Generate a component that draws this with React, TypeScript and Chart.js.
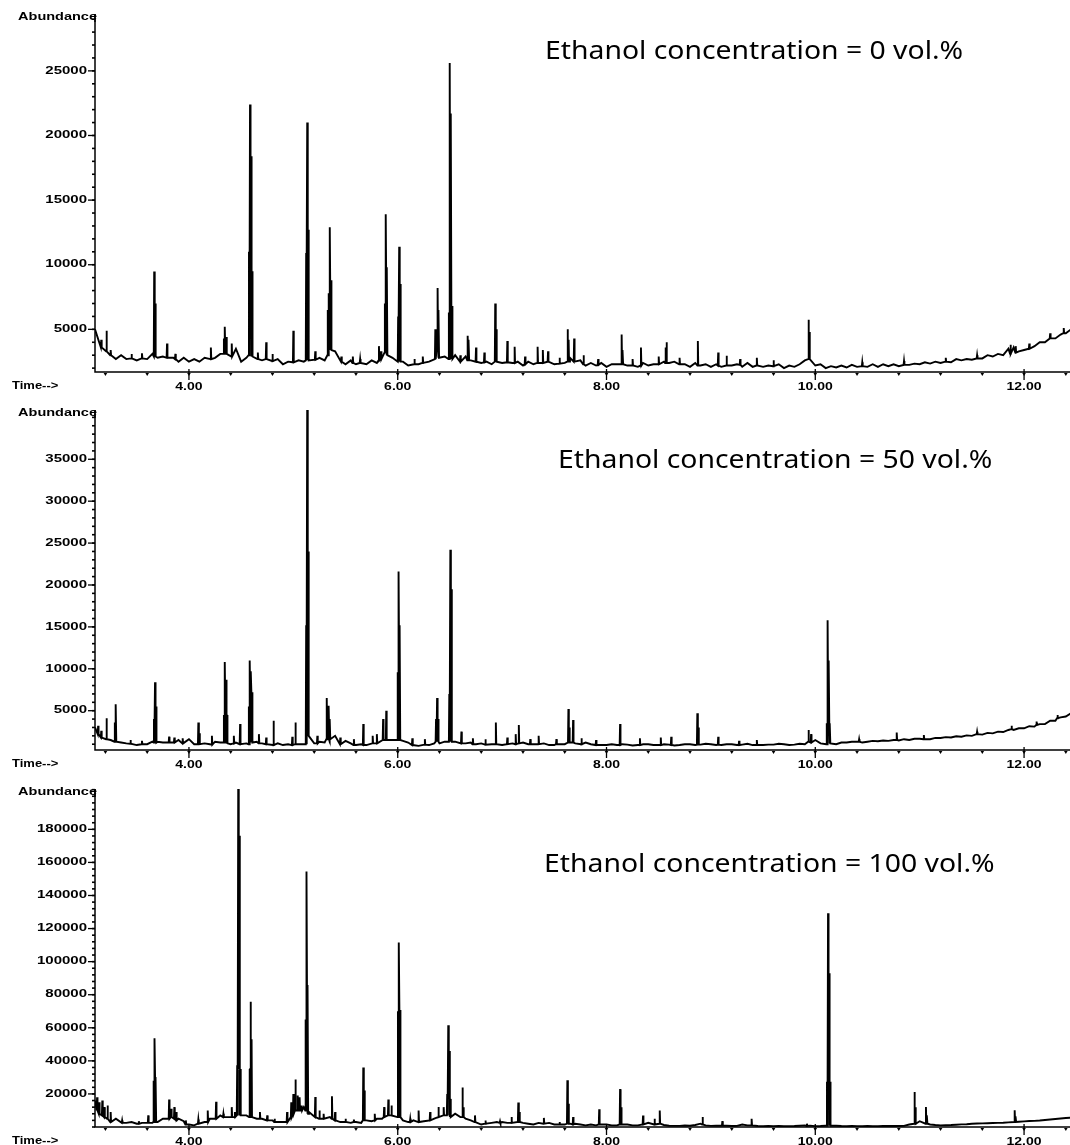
import { useEffect, useRef } from "react";
import { Chart, registerables } from "chart.js";

Chart.register(...registerables);

// Baseline samples (abundance) every 0.05 min, from 3.10 min to 12.45 min.
const BASE_START = 3.1;
const BASE_STEP = 0.05;

const BASELINE_0 = [
  5000, 3900, 3300, 3000, 2700, 3000, 2700, 2900, 2600, 2900,
  2700, 3100, 2800, 2900, 2600, 2800, 2500, 2800, 2500, 2700,
  2500, 2800, 2600, 2800, 3100, 2800, 3400, 3500, 2500, 2800,
  2900, 3200, 2600, 2900, 2400, 2700, 2300, 2500, 2300, 2600,
  2500, 2900, 2600, 2800, 2600, 3100, 3300, 2500, 2300, 2600,
  2300, 2500, 2300, 2600, 2400, 2900, 3300, 2800, 2300, 2500,
  2200, 2500, 2300, 2600, 2500, 2800, 2600, 2900, 2600, 3000,
  2500, 2900, 2600, 2800, 2400, 2500, 2300, 2700, 2400, 2600,
  2400, 2500, 2200, 2500, 2300, 2700, 2600, 2700, 2300, 2400,
  2400, 2800, 2500, 2600, 2200, 2400, 2200, 2400, 2100, 2300,
  2300, 2600, 2200, 2300, 2100, 2400, 2200, 2300, 2200, 2500,
  2400, 2500, 2200, 2300, 2100, 2400, 2200, 2300, 2100, 2300,
  2100, 2400, 2200, 2300, 2100, 2400, 2100, 2300, 2100, 2200,
  2100, 2300, 2000, 2200, 2100, 2300, 2600, 2700, 2200, 2300,
  2000, 2150, 2050, 2200, 2050, 2250, 2100, 2200, 2100, 2300,
  2100, 2300, 2150, 2300, 2150, 2400, 2250, 2350, 2300, 2450,
  2350, 2500, 2400, 2600, 2450, 2700, 2600, 2700, 2650, 2900,
  2750, 3000, 2900, 3100, 3000, 3500, 3600, 3300, 3400, 3700,
  3700, 4000, 4000, 4300, 4300, 4600, 4700, 5000,
];

const BASELINE_50 = [
  3000, 2400, 1800, 1500, 1400, 1200, 1100, 1000, 900, 1100,
  1000, 1300, 1300, 1200, 1200, 1000, 1500, 1200, 1600, 1000,
  900, 1100, 1000, 1300, 1200, 900, 1000, 1200, 1000, 1100,
  1500, 1300, 1100, 1300, 900, 1100, 900, 1000, 800, 1000,
  1000, 1200, 1100, 1300, 1200, 1500, 2000, 1800, 1400, 1100,
  900, 1000, 900, 1100, 1000, 1200, 1300, 1500, 1800, 1400,
  1200, 900, 800, 1000, 900, 1100, 1100, 1300, 1400, 1300,
  1300, 1100, 1200, 1000, 1100, 900, 1000, 1100, 900, 1000,
  1100, 1300, 1200, 1000, 1000, 1100, 1100, 900, 900, 1000,
  1000, 1100, 1100, 1300, 1200, 1000, 1000, 900, 900, 1000,
  900, 1000, 950, 850, 900, 1000, 1000, 900, 900, 1000,
  950, 850, 900, 1000, 1000, 900, 950, 1050, 1000, 900,
  900, 1000, 1000, 900, 950, 1050, 900, 1000, 900, 950,
  950, 1050, 1000, 900, 950, 1050, 1000, 1500, 1500, 1100,
  1100, 1200, 1000, 1200, 1200, 1300, 1300, 1200, 1300, 1400,
  1350, 1450, 1400, 1500, 1450, 1600, 1500, 1650, 1650, 1600,
  1600, 1750, 1750, 1850, 1800, 1950, 1900, 2050, 2000, 2200,
  2150, 2350, 2300, 2500, 2450, 2700, 2700, 2900, 2900, 3150,
  3100, 3400, 3400, 3800, 3800, 4200, 4300, 4700,
];

const BASELINE_100 = [
  16000, 12000, 9000, 7000, 5000, 4000, 2500, 3000, 2000, 2500,
  3000, 2500, 3000, 5000, 7000, 9000, 5000, 3500, 1500, 1000,
  2500, 3000, 5000, 4000, 7000, 6000, 6000, 8000, 9000, 7000,
  6000, 5000, 5000, 4000, 4000, 3000, 3000, 2000, 10000, 12000,
  12000, 9000, 8000, 6000, 5000, 6000, 4000, 3000, 3500, 2500,
  3000, 2500, 4000, 3500, 5000, 5000, 7000, 8000, 6000, 4000,
  3000, 4000, 5000, 3500, 4000, 5000, 6000, 8000, 12000, 8000,
  6000, 5000, 4000, 3000, 1500, 2000, 2500, 3000, 3000, 2500,
  3500, 3000, 2500, 2000, 1500, 2500, 3500, 2500, 1500, 2000,
  1500, 2000, 2000, 1500, 1000, 1500, 1000, 1500, 1500, 1000,
  1000, 1500, 1500, 1000, 1000, 1500, 2500, 2000, 2000, 1200,
  800, 700, 700, 900, 800, 1200, 2000, 1000, 700, 800,
  900, 800, 600, 700, 1500, 1000, 800, 600, 500, 600,
  500, 600, 500, 500, 600, 800, 1000, 800, 500, 600,
  800, 700, 800, 600, 500, 600, 500, 500, 600, 500,
  500, 600, 600, 700, 600, 700, 1500, 2500, 3500, 2000,
  1500, 1200, 1000, 1100, 1200, 1400, 1600, 1700, 2000, 2100,
  2200, 2300, 2400, 2500, 2600, 2800, 3000, 3200, 3400, 3600,
  3700, 3900, 4200, 4500, 4800, 5100, 5400, 5700,
];

// Peaks: [retention time (min), apex abundance, abundance at the foot]
type Peak = [number, number, number];

const PEAKS_0: Peak[] = [
  [3.16, 4200, 3600], [3.21, 4900, 3300], [3.25, 3400, 3000], [3.45, 3100, 2750],
  [3.55, 3150, 2750], [3.667, 9480, 2900], [3.677, 7000, 2900], [3.79, 3900, 2800],
  [3.87, 3100, 2700], [4.21, 3600, 2700], [4.335, 4300, 3100], [4.345, 5200, 3100],
  [4.36, 4400, 3100], [4.41, 3900, 2900], [4.575, 11000, 3000], [4.585, 22400, 9500],
  [4.595, 18400, 9500], [4.605, 9500, 2900], [4.66, 3200, 2700], [4.74, 4000, 2700],
  [4.8, 3100, 2550], [5.0, 4900, 2450], [5.123, 10900, 2600], [5.133, 21000, 10900],
  [5.143, 12700, 2600], [5.21, 3300, 2650], [5.33, 6500, 3000], [5.341, 7800, 4000],
  [5.351, 12900, 6500], [5.361, 8800, 3400], [5.46, 2900, 2500], [5.57, 2900, 2400],
  [5.64, 2700, 2400], [5.82, 3700, 2600], [5.84, 3300, 2700], [5.877, 7000, 3200],
  [5.887, 13900, 7000], [5.897, 9800, 3000], [6.004, 6000, 2500], [6.014, 11400, 6000],
  [6.024, 8500, 2500], [6.16, 2700, 2300], [6.24, 2900, 2400], [6.36, 5000, 2700],
  [6.382, 8200, 4000], [6.392, 6500, 2800], [6.49, 6300, 2700], [6.5, 25600, 6300],
  [6.51, 21700, 6000], [6.52, 6800, 2700], [6.6, 3000, 2500], [6.67, 4500, 2600],
  [6.68, 4200, 2600], [6.75, 3600, 2500], [6.83, 3200, 2450], [6.934, 7000, 2500],
  [6.944, 5000, 2500], [7.05, 4100, 2450], [7.12, 3650, 2400], [7.22, 2900, 2300],
  [7.34, 3650, 2400], [7.39, 3400, 2400], [7.44, 3300, 2500], [7.55, 2800, 2350],
  [7.627, 5000, 2500], [7.637, 4200, 2500], [7.69, 4300, 2500], [7.78, 3000, 2300],
  [7.92, 2700, 2250], [8.145, 4600, 2300], [8.155, 3400, 2300], [8.25, 2700, 2200],
  [8.33, 3600, 2200], [8.5, 2900, 2300], [8.565, 3600, 2400], [8.575, 4000, 2400],
  [8.7, 2800, 2300], [8.875, 4100, 2200], [9.07, 3200, 2200], [9.15, 2950, 2200],
  [9.28, 2700, 2250], [9.44, 2800, 2200], [9.6, 2600, 2150], [9.935, 5750, 2700],
  [9.945, 4800, 2700], [10.45, 2450, 2150], [10.85, 2550, 2250], [11.25, 2800, 2500],
  [11.55, 3000, 2750], [11.87, 3800, 3100], [11.92, 3700, 3200], [12.05, 3900, 3500],
  [12.25, 4700, 4300], [12.38, 5100, 4700],
];

const PEAKS_50: Peak[] = [
  [3.13, 3200, 2200], [3.16, 2600, 1800], [3.21, 4100, 1600], [3.29, 3600, 1300],
  [3.3, 5760, 1300], [3.44, 1500, 1050], [3.55, 1400, 1000], [3.665, 4000, 1200],
  [3.675, 8400, 4000], [3.685, 5500, 1200], [3.81, 1900, 1200], [3.86, 1800, 1200],
  [3.94, 1700, 1100], [4.09, 3600, 1000], [4.1, 2300, 1000], [4.22, 2000, 950],
  [4.335, 4500, 1200], [4.345, 10800, 4500], [4.355, 8700, 4400], [4.365, 4500, 1100],
  [4.43, 2000, 1100], [4.49, 3400, 1000], [4.574, 5500, 1000], [4.584, 11000, 5500],
  [4.594, 9700, 7200], [4.604, 7200, 1200], [4.67, 2200, 1100], [4.74, 1800, 1000],
  [4.81, 3800, 900], [4.99, 1900, 900], [5.02, 3600, 1000], [5.123, 15200, 1000],
  [5.133, 42000, 15200], [5.143, 24000, 2000], [5.23, 2000, 1100], [5.32, 6500, 1600],
  [5.33, 5500, 2000], [5.34, 5600, 1800], [5.35, 4000, 1600], [5.45, 1800, 1000],
  [5.58, 1600, 900], [5.67, 3400, 900], [5.76, 2000, 1100], [5.8, 2200, 1100],
  [5.86, 4000, 1500], [5.89, 5000, 1500], [6.0, 9600, 1500], [6.01, 21600, 9600],
  [6.02, 15200, 1500], [6.14, 1700, 900], [6.26, 1600, 950], [6.367, 4000, 1300],
  [6.377, 6500, 1300], [6.387, 4000, 1300], [6.494, 7000, 1300], [6.504, 24200, 7000],
  [6.514, 19500, 1300], [6.61, 2500, 1100], [6.72, 1700, 1000], [6.84, 1600, 950],
  [6.94, 3600, 1000], [7.05, 1800, 1000], [7.13, 2200, 1000], [7.16, 3300, 1100],
  [7.27, 1600, 1000], [7.35, 2000, 1000], [7.52, 1600, 1000], [7.635, 5200, 1200],
  [7.645, 3000, 1200], [7.68, 3900, 1200], [7.76, 1700, 1000], [7.9, 1500, 900],
  [8.13, 3400, 900], [8.32, 1700, 900], [8.52, 1800, 900], [8.62, 1900, 900],
  [8.87, 4700, 950], [8.88, 3000, 950], [9.07, 1900, 950], [9.27, 1400, 900],
  [9.44, 1500, 900], [9.935, 2700, 1300], [9.96, 2200, 1200], [10.11, 3500, 1000],
  [10.12, 15800, 3500], [10.13, 11000, 3500], [10.14, 3500, 1100], [10.42, 1600, 1300],
  [10.78, 2400, 1500], [11.04, 2100, 1600], [11.55, 2500, 2200], [11.88, 3200, 2800],
  [12.12, 3700, 3300], [12.32, 4500, 4100],
];

const PEAKS_100: Peak[] = [
  [3.12, 18000, 10000], [3.14, 15000, 8000], [3.17, 16000, 7000], [3.19, 12000, 6000],
  [3.22, 13000, 5000], [3.25, 9000, 3000], [3.36, 4000, 2500], [3.52, 3500, 2000],
  [3.61, 7000, 2500], [3.662, 28000, 3000], [3.672, 53600, 28000], [3.682, 30300, 3000],
  [3.81, 16600, 5000], [3.83, 11000, 6000], [3.86, 12000, 5000], [3.88, 9000, 4000],
  [3.97, 4000, 1500], [4.09, 4500, 2000], [4.18, 10000, 3000], [4.26, 15200, 5000],
  [4.33, 8000, 6000], [4.41, 12000, 6000], [4.44, 9000, 6000], [4.462, 37400, 7000],
  [4.472, 205000, 37400], [4.482, 176200, 35000], [4.492, 35000, 7000], [4.58, 35000, 6000],
  [4.59, 75700, 35000], [4.6, 53000, 6000], [4.68, 9000, 5000], [4.75, 7000, 4000],
  [4.82, 5000, 3000], [4.94, 9000, 3000], [4.98, 15000, 6000], [5.0, 20000, 8000],
  [5.02, 28700, 10000], [5.04, 19000, 10000], [5.06, 18000, 10000], [5.08, 13000, 10000],
  [5.118, 65000, 10000], [5.128, 154500, 65000], [5.138, 85900, 8000], [5.21, 18200, 6000],
  [5.25, 10000, 5000], [5.29, 8000, 5000], [5.37, 18600, 5000], [5.4, 9000, 4000],
  [5.5, 5000, 3000], [5.58, 4500, 3000], [5.67, 36000, 4000], [5.68, 22000, 4000],
  [5.78, 8000, 4000], [5.87, 12000, 6000], [5.91, 16600, 7000], [5.94, 13000, 7000],
  [6.002, 70000, 6000], [6.012, 111500, 70000], [6.022, 70700, 6000], [6.12, 5000, 3000],
  [6.2, 10000, 3000], [6.31, 9000, 4000], [6.39, 12100, 6000], [6.44, 12000, 7000],
  [6.474, 20000, 7000], [6.484, 61600, 20000], [6.494, 45900, 17000], [6.504, 17000, 6000],
  [6.62, 23900, 6000], [6.63, 12000, 6000], [6.74, 7000, 3000], [6.84, 4000, 2000],
  [6.98, 3500, 2500], [7.09, 6000, 2500], [7.155, 14800, 3000], [7.165, 9000, 3000],
  [7.4, 5500, 2000], [7.55, 3000, 1500], [7.625, 28300, 2000], [7.635, 14000, 2000],
  [7.68, 6000, 1500], [7.93, 10700, 1500], [8.13, 22900, 1500], [8.14, 12000, 1500],
  [8.35, 7000, 1500], [8.46, 5000, 1500], [8.51, 10000, 2000], [8.92, 6000, 1500],
  [9.11, 3500, 900], [9.39, 5000, 1000], [9.92, 2000, 600], [10.112, 27300, 800],
  [10.122, 129300, 27300], [10.132, 93000, 27300], [10.142, 27300, 800], [10.95, 21200, 2000],
  [10.96, 12000, 2000], [11.06, 12100, 2000], [11.07, 7000, 2000], [11.91, 10100, 3000],
  [11.92, 6500, 3000],
];

// Axis tick labels
const TIME_LABELS = [4, 6, 8, 10, 12];
const Y_TICKS_0 = [5000, 10000, 15000, 20000, 25000];
const Y_TICKS_50 = [5000, 10000, 15000, 20000, 25000, 30000, 35000];
const Y_TICKS_100 = [20000, 40000, 60000, 80000, 100000, 120000, 140000, 160000, 180000];

const TITLES = [
  "Ethanol concentration = 0 vol.%",
  "Ethanol concentration = 50 vol.%",
  "Ethanol concentration = 100 vol.%",
];

const TIME_MIN = 3.1;
const TIME_MAX = 12.44;

type PanelSpec = {
  baseline: number[];
  peaks: Peak[];
  yTicks: number[];
  yMin: number;
  yMax: number;
  yMinorStep: number;
  title: string;
  titleX: number;
  titleY: number;
  top: number;
  height: number;
  padTop: number;
  padBottom: number;
};

const PANELS: PanelSpec[] = [
  {
    baseline: BASELINE_0, peaks: PEAKS_0, yTicks: Y_TICKS_0,
    yMin: 1700, yMax: 29400, yMinorStep: 1000, title: TITLES[0],
    titleX: 545, titleY: 52, top: 0, height: 400, padTop: 14, padBottom: 28,
  },
  {
    baseline: BASELINE_50, peaks: PEAKS_50, yTicks: Y_TICKS_50,
    yMin: 310, yMax: 40880, yMinorStep: 1000, title: TITLES[1],
    titleX: 558, titleY: 61, top: 400, height: 378, padTop: 10, padBottom: 28,
  },
  {
    baseline: BASELINE_100, peaks: PEAKS_100, yTicks: Y_TICKS_100,
    yMin: 0, yMax: 204400, yMinorStep: 4000, title: TITLES[2],
    titleX: 544, titleY: 87, top: 778, height: 367, padTop: 11, padBottom: 18,
  },
];

// Merge baseline samples and peak spikes into one ordered trace.
function buildTrace(baseline: number[], peaks: Peak[]) {
  const pts: { x: number; y: number }[] = [];
  baseline.forEach((v, i) => {
    const t = Math.round((BASE_START + i * BASE_STEP) * 100) / 100;
    if (peaks.some((p) => Math.abs(p[0] - t) < 0.012)) return;
    pts.push({ x: t, y: v });
  });
  peaks.forEach(([t, apex, foot]) => {
    pts.push({ x: t - 0.004, y: foot }, { x: t, y: apex }, { x: t + 0.004, y: foot });
  });
  pts.sort((a, b) => a.x - b.x);
  return pts;
}

const AXIS_FONT = 'bold 10px "Liberation Sans", Arial, sans-serif';
const STRETCH = 1.5;

function stretchedText(
  ctx: CanvasRenderingContext2D,
  text: string,
  x: number,
  y: number,
  align: CanvasTextAlign,
  sx: number = STRETCH
) {
  ctx.save();
  ctx.translate(x, y);
  ctx.scale(sx, 1);
  ctx.font = AXIS_FONT;
  ctx.textAlign = align;
  ctx.textBaseline = "middle";
  ctx.fillText(text, 0, 0);
  ctx.restore();
}

function makeAxesPlugin(spec: PanelSpec) {
  return {
    id: "chromAxes",
    afterDraw(chart: any) {
      const { ctx, chartArea: a, scales } = chart;
      const xs = scales.x;
      const ys = scales.y;
      ctx.save();
      ctx.strokeStyle = "#000";
      ctx.fillStyle = "#000";

      // axis lines
      ctx.lineWidth = 1.5;
      ctx.beginPath();
      ctx.moveTo(a.left, a.top);
      ctx.lineTo(a.left, a.bottom);
      ctx.lineTo(a.right, a.bottom);
      ctx.stroke();

      // y minor ticks
      for (let v = Math.ceil(spec.yMin / spec.yMinorStep) * spec.yMinorStep; v <= spec.yMax; v += spec.yMinorStep) {
        const py = ys.getPixelForValue(v);
        ctx.fillRect(a.left - 3, py - 0.8, 3, 1.6);
      }
      // y major ticks + labels
      ctx.lineWidth = 1.3;
      spec.yTicks.forEach((v) => {
        const py = ys.getPixelForValue(v);
        ctx.beginPath();
        ctx.moveTo(a.left - 7, py);
        ctx.lineTo(a.left, py);
        ctx.stroke();
        stretchedText(ctx, String(v), a.left - 8, py, "right");
      });

      // x minor ticks every 0.4 min
      for (let k = 8; k * 0.4 <= TIME_MAX; k++) {
        const t = k * 0.4;
        if (t < TIME_MIN) continue;
        const px = xs.getPixelForValue(t);
        ctx.beginPath();
        ctx.moveTo(px - 1.8, a.bottom + 1);
        ctx.lineTo(px + 1.8, a.bottom + 1);
        ctx.lineTo(px, a.bottom + 4);
        ctx.closePath();
        ctx.fill();
      }
      // x major ticks + labels
      TIME_LABELS.forEach((t) => {
        const px = xs.getPixelForValue(t);
        ctx.lineWidth = 1.3;
        ctx.beginPath();
        ctx.moveTo(px, a.bottom - 3);
        ctx.lineTo(px, a.bottom + 8);
        ctx.stroke();
        stretchedText(ctx, t.toFixed(2), px, a.bottom + 15, "center", 1.4);
      });

      stretchedText(ctx, "Time-->", 12, a.bottom + 14, "left", 1.3);

      // axis title over the y axis (last letter sits under the axis line)
      stretchedText(ctx, "Abundance", a.left + 2, a.top + 3, "right", 1.45);
      ctx.lineWidth = 1.5;
      ctx.beginPath();
      ctx.moveTo(a.left, a.top);
      ctx.lineTo(a.left, a.top + 8);
      ctx.stroke();

      // panel title
      ctx.save();
      ctx.translate(spec.titleX, spec.titleY);
      ctx.scale(1.09, 1);
      ctx.font = '26px "Noto Sans", "DejaVu Sans", sans-serif';
      ctx.textAlign = "left";
      ctx.textBaseline = "middle";
      ctx.fillText(spec.title, 0, 0);
      ctx.restore();
      ctx.restore();
    },
  };
}

function Panel({ spec }: { spec: PanelSpec }) {
  const ref = useRef<HTMLCanvasElement | null>(null);
  useEffect(() => {
    if (!ref.current) return;
    const chart = new Chart(ref.current, {
      type: "line",
      data: {
        datasets: [
          {
            data: buildTrace(spec.baseline, spec.peaks),
            borderColor: "#000",
            borderWidth: 1.9,
            pointRadius: 0,
            tension: 0,
            fill: false,
          },
        ],
      },
      options: {
        animation: false,
        responsive: false,
        devicePixelRatio: 1,
        events: [],
        layout: { padding: { left: 95, right: 0, top: spec.padTop, bottom: spec.padBottom } },
        scales: {
          x: { type: "linear", min: TIME_MIN, max: TIME_MAX, display: false },
          y: { type: "linear", min: spec.yMin, max: spec.yMax, display: false },
        },
        plugins: { legend: { display: false }, tooltip: { enabled: false } },
      },
      plugins: [makeAxesPlugin(spec)],
    } as any);
    return () => chart.destroy();
  }, [spec]);
  return (
    <canvas
      ref={ref}
      width={1070}
      height={spec.height}
      style={{ position: "absolute", left: 0, top: spec.top, width: 1070, height: spec.height }}
    />
  );
}

export default function App() {
  return (
    <div style={{ position: "absolute", left: 0, top: 0, width: 1070, height: 1145, background: "#fff" }}>
      {PANELS.map((spec, i) => (
        <Panel key={i} spec={spec} />
      ))}
    </div>
  );
}
